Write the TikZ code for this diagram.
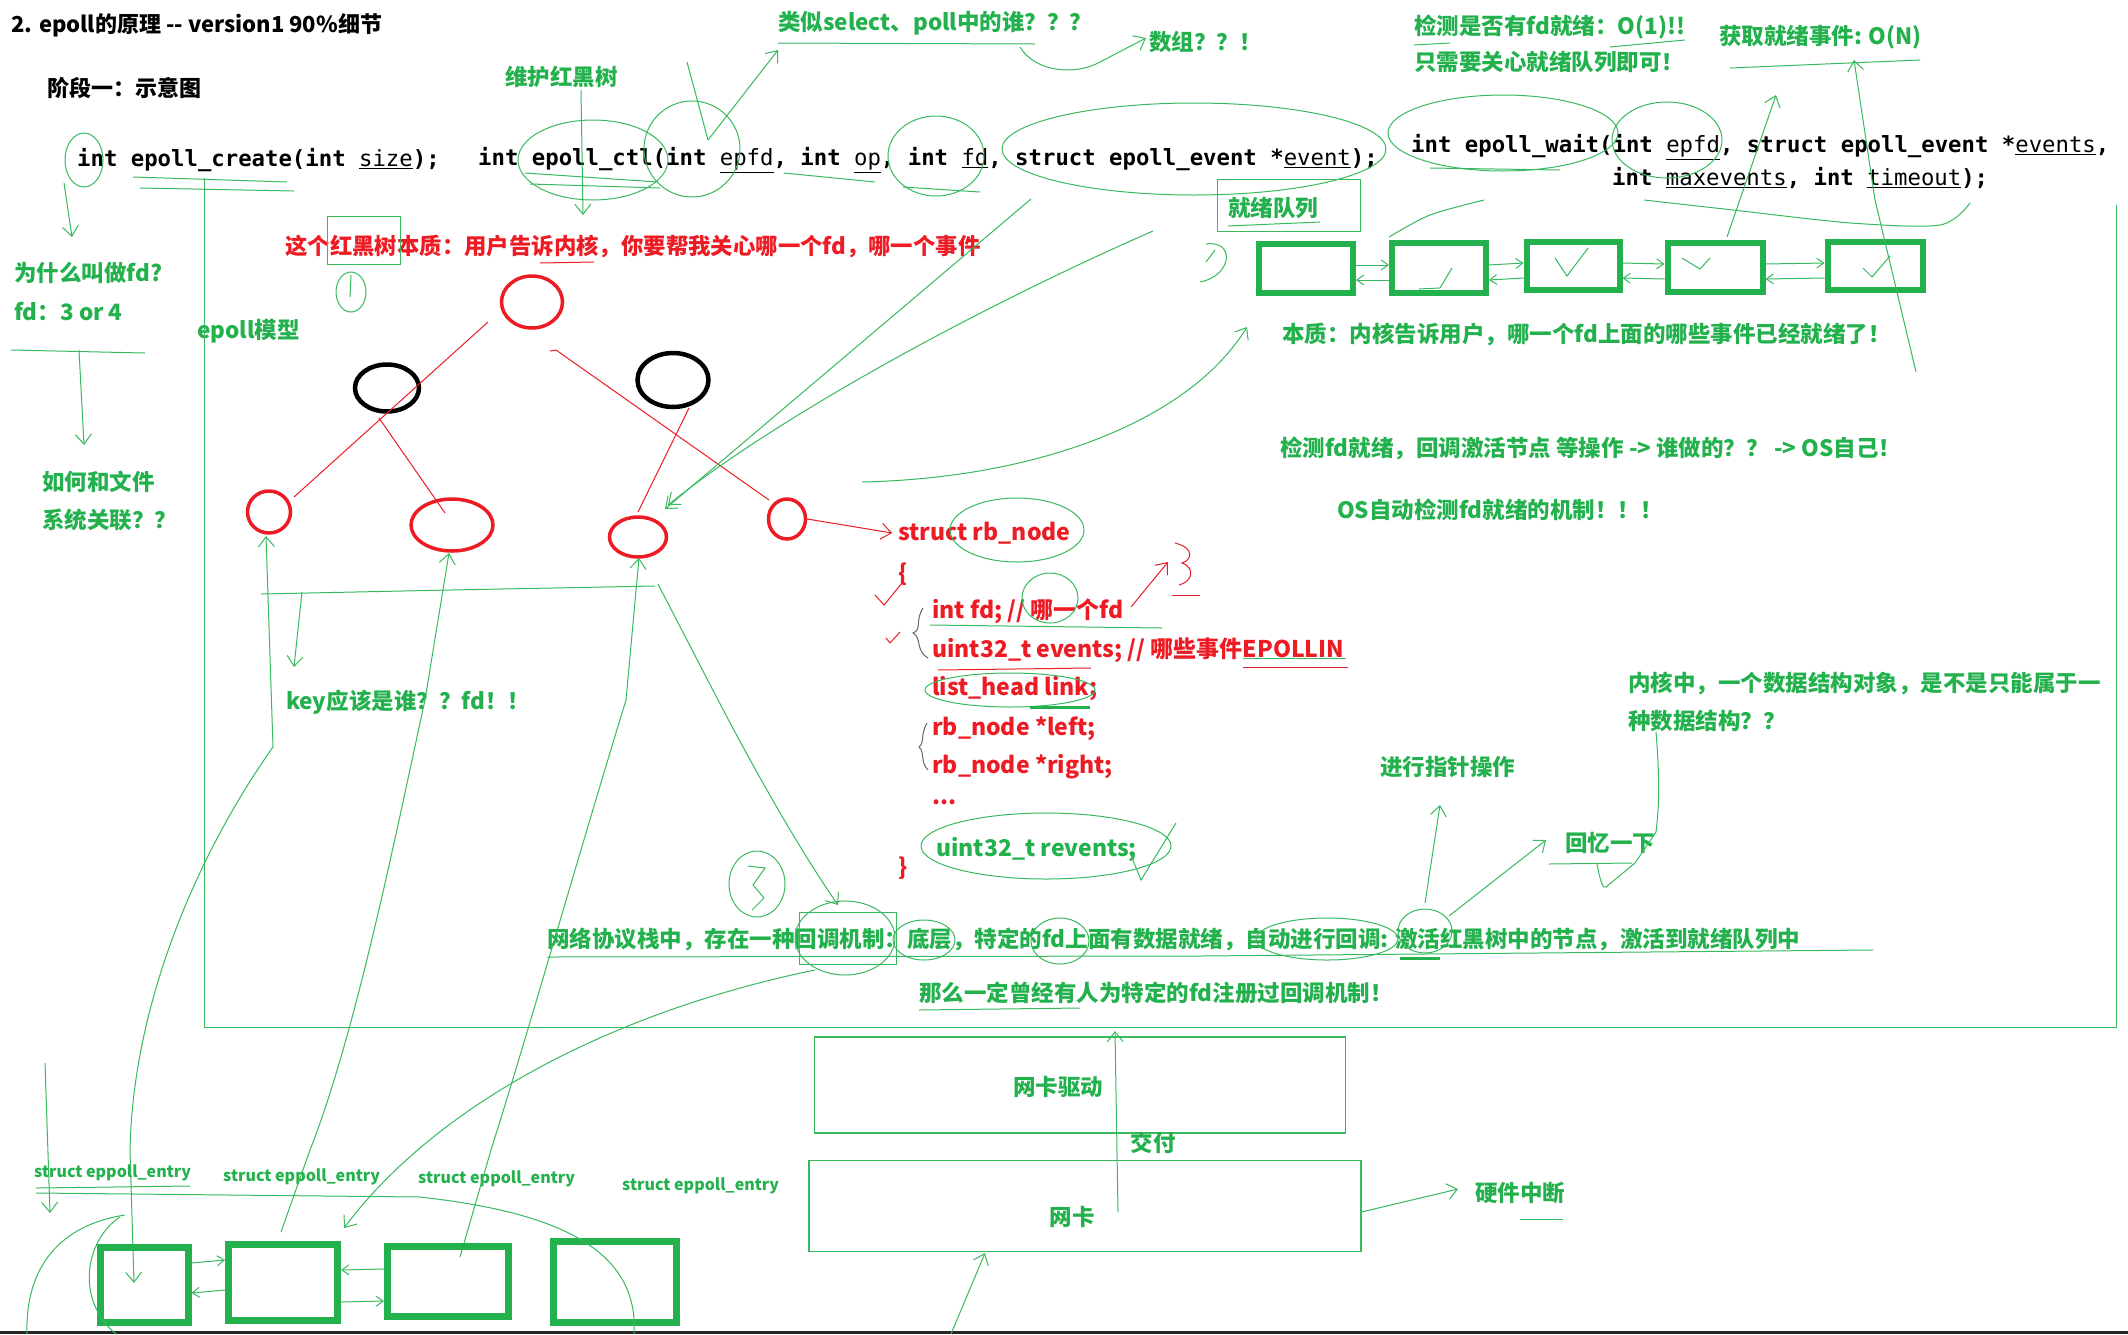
\documentclass[tikz,border=0pt]{standalone}
\usepackage{fontspec}
\setmainfont{Noto Sans CJK SC}
\newfontfamily\codefont{DejaVu Sans Mono}
\usetikzlibrary{arrows.meta,shapes.geometric,calc}
\definecolor{G}{RGB}{34,177,76}
\definecolor{R}{RGB}{237,28,36}
\newcommand\myfs[1]{\fontsize{#1}{#1}\selectfont}
\newcommand\uarg[1]{\underline{\mdseries #1}}
\begin{document}
\begin{tikzpicture}[x=1pt,y=-1pt,
  gt/.style={text=G, font=\bfseries\myfs{22.5}, inner sep=0pt, anchor=west},
  bt/.style={text=black, font=\bfseries\myfs{22}, inner sep=0pt, anchor=west},
  rt/.style={text=R, font=\bfseries\myfs{23}, inner sep=0pt, anchor=west},
  ct/.style={text=black, font=\codefont\bfseries\myfs{22.3}, inner sep=0pt, anchor=west},
  gs/.style={text=G, font=\bfseries\myfs{16}, inner sep=0pt, anchor=west},
  gl/.style={draw=G!90, line width=1pt},
  ga/.style={gl, -{Straight Barb[length=10pt,width=16pt]}},
  gab/.style={gl, {Straight Barb[length=10pt,width=16pt]}-{Straight Barb[length=10pt,width=16pt]}},
  gas/.style={gl, -{Straight Barb[length=7pt,width=10pt]}},
  rl/.style={draw=R, line width=1pt},
  ra/.style={rl, -{Straight Barb[length=10pt,width=16pt]}},
  rc/.style={ellipse, draw=R, line width=3.5pt, inner sep=0pt},
  kc/.style={ellipse, draw=black, line width=4.5pt, inner sep=0pt},
  qbox/.style={draw=G, line width=6pt, inner sep=0pt},
  pbox/.style={draw=G!90, line width=1.2pt, inner sep=0pt},
]
\fill[white] (0,0) rectangle (2128,1334);
\useasboundingbox (0,0) rectangle (2128,1334);
\fill[black!85] (0,1331) rectangle (2128,1334);

% ---------------- texts ----------------
\node[bt] (title) at (11,25) {2. epoll的原理 -{}- version1 90\%细节};
\node[bt] (stage) at (47,88) {阶段一：示意图};
\node[gt] (maint) at (505,77) {维护红黑树};
\node[gt] (similar) at (778,23) {类似select、poll中的谁？？？};
\node[gt] (arr) at (1149,42) {数组？？！};
\node[gt] (o1) at (1414,27) {检测是否有fd就绪：O(1)!!};
\node[gt] (only) at (1414,62) {只需要关心就绪队列即可！};
\node[gt] (on) at (1719,37) {获取就绪事件: O(N)};

\node[ct] (create) at (77,160) {int epoll\_create(int \uarg{size});};
\node[ct] (ctl) at (478,160) {int epoll\_ctl(int \uarg{epfd}, int \uarg{op}, int \uarg{fd}, struct epoll\_event *\uarg{event});};
\node[ct] (wait1) at (1411,147) {int epoll\_wait(int \uarg{epfd}, struct epoll\_event *\uarg{events},};
\node[ct] (wait2) at (1612,178) {int \uarg{maxevents}, int \uarg{timeout});};

\node[gt] (rql) at (1228,208) {就绪队列};
\node[rt, font=\bfseries\myfs{22.4}] (rbtxt) at (285,247) {这个红黑树本质：用户告诉内核，你要帮我关心哪一个fd，哪一个事件};
\node[gt] (why) at (14,273) {为什么叫做fd?};
\node[gt] (fd34) at (14,312) {fd：3 or 4};
\node[gt] (fs1) at (42,482) {如何和文件};
\node[gt] (fs2) at (42,520) {系统关联？？};
\node[gt] (model) at (197,331) {epoll模型};
\node[gt] (key) at (286,702) {key应该是谁？？fd！！};
\node[gt] (essence) at (1282,334) {本质：内核告诉用户，哪一个fd上面的哪些事件已经就绪了！};
\node[gt] (who) at (1280,448) {检测fd就绪，回调激活节点 等操作 -> 谁做的？？ -> OS自己！};
\node[gt] (osauto) at (1337,510) {OS自动检测fd就绪的机制！！！};

\node[rt] (rbnode) at (898,533) {struct rb\_node};
\node[rt] (lb) at (898,574) {\{};
\node[rt] (f1) at (932,611) {int fd; // 哪一个fd};
\node[rt] (f2) at (932,650) {uint32\_t events; // 哪些事件EPOLLIN};
\node[rt] (f3) at (932,689) {list\_head link;};
\node[rt] (f4) at (932,729) {rb\_node *left;};
\node[rt] (f5) at (932,767) {rb\_node *right;};
\node[rt] (f6) at (932,802) {...};
\node[gt, font=\bfseries\myfs{23}] (f7) at (936,850) {uint32\_t revents;};
\node[rt] (rb2) at (898,868) {\}};

\node[gt] (kern1) at (1628,683) {内核中，一个数据结构对象，是不是只能属于一};
\node[gt] (kern2) at (1628,721) {种数据结构？？};
\node[gt] (ptr) at (1380,767) {进行指针操作};
\node[gt] (recall) at (1565,843) {回忆一下};
\node[gt] (cb) at (547,939) {网络协议栈中，存在一种回调机制：底层，特定的fd上面有数据就绪，自动进行回调: 激活红黑树中的节点，激活到就绪队列中};
\node[gt] (must) at (919,993) {那么一定曾经有人为特定的fd注册过回调机制！};

\node[pbox, minimum width=531pt, minimum height=96pt] (drv) at (1080,1085) {};
\node[gt, anchor=center] (drvt) at (1058,1087) {网卡驱动};
\node[pbox, minimum width=552pt, minimum height=91pt] (nic) at (1085,1206) {};
\node[gt, anchor=center] (nict) at (1072,1217) {网卡};
\node[gt, anchor=center] (jf) at (1153,1143) {交付};
\node[gt] (hw) at (1475,1193) {硬件中断};

\node[gs] (e1) at (34,1173) {struct eppoll\_entry};
\node[gs] (e2) at (223,1177) {struct eppoll\_entry};
\node[gs] (e3) at (418,1179) {struct eppoll\_entry};
\node[gs] (e4) at (622,1186) {struct eppoll\_entry};

% ---------------- red-black tree ----------------
\node[rc, minimum width=61pt, minimum height=52pt] (root) at (532,302) {};
\node[kc, minimum width=64pt, minimum height=47pt] (bl) at (387,388) {};
\node[kc, minimum width=71pt, minimum height=54pt] (br) at (673,380) {};
\node[rc, minimum width=43pt, minimum height=42pt] (l1) at (269,512) {};
\node[rc, minimum width=82pt, minimum height=52pt] (l2) at (452,525) {};
\node[rc, minimum width=57pt, minimum height=40pt] (l3) at (638,537) {};
\node[rc, minimum width=37pt, minimum height=40pt] (l4) at (787,519) {};

\draw[rl] ([shift={(-44,20)}]root.center) -- ([shift={(25,-15)}]l1.center);
\draw[rl] ([shift={(-8,30)}]bl.center) -- ([shift={(-7,-12)}]l2.center);
\draw[rl] ([shift={(18,49)}]root.center) -- (556,350) -- ([shift={(-18,-19)}]l4.center);
\draw[rl] ([shift={(16,28)}]br.center) -- ([shift={(0,-25)}]l3.center);
\draw[ra] (l4.east) -- ([xshift=-6pt]rbnode.west);

% ---------------- ready queue ----------------
\draw[gl] (1217,179) rectangle (1360,231);
\draw[gl] (1228,226) -- (1320,222);
\node[qbox, minimum width=94pt, minimum height=49pt] (q1) at (1306,268) {};
\node[qbox, minimum width=94pt, minimum height=50pt] (q2) at (1439,268) {};
\node[qbox, minimum width=93pt, minimum height=48pt] (q3) at (1573,266) {};
\node[qbox, minimum width=95pt, minimum height=49pt] (q4) at (1715,267) {};
\node[qbox, minimum width=95pt, minimum height=48pt] (q5) at (1875,266) {};
\foreach \a/\b in {q1/q2,q2/q3,q3/q4,q4/q5}{
  \draw[gas] ([yshift=3pt]\a.east) -- ([yshift=3pt]\b.west);
  \draw[gas] ([yshift=-12pt]\b.west) -- ([yshift=-12pt]\a.east);
}
\draw[gl] (1419,289) -- (1440,288) -- (1452,268);
\draw[gl] (1555,258) -- (1567,276) -- (1588,248);
\draw[gl] (1682,258) -- (1700,269) -- (1710,258);
\draw[gl] (1863,268) -- (1872,277) -- (1890,256);
\draw[gl] (1206,244) .. controls (1236,240) and (1232,276) .. (1200,282);
\draw[gl] (1215,250) -- (1206,262);

% ---------------- top annotations ----------------
\draw[ga] (581,90) -- (583,215);
\draw[gl] (687,62) -- (708,140);
\draw[ga] (708,140) -- (778,50);
\draw[gl] (778,43) -- (1035,44);
\draw[ga] (1020,47) .. controls (1035,72) and (1075,76) .. (1100,62) -- (1146,38);
\draw[gl] (1414,45) -- (1450,43);
\draw[gl] (1610,47) -- (1685,40);
\draw[gl] (1730,68) -- (1920,60);
\draw[ga] (1916,372) -- (1875,200) -- (1854,60);
\draw[ga] (1727,237) -- (1776,95);
\draw[gl] plot[smooth] coordinates {(1644,200) (1733,210) (1851,223) (1940,225) (1970,203)};
\draw[gl] plot[smooth] coordinates {(1389,237) (1430,215) (1484,200)};
\draw[ga] (862,482) .. controls (1040,478) and (1190,420) .. (1247,327);
\draw[ga] (1031,199) -- (665,509);
\draw[ga] (1153,231) .. controls (950,320) and (760,430) .. (668,505);

% code ellipses and underlines
\draw[gl] (84,160) ellipse [x radius=19pt, y radius=27pt];
\draw[gl] (593,160) ellipse [x radius=75pt, y radius=40pt];
\draw[gl] (692,149) ellipse [x radius=48pt, y radius=48pt];
\draw[gl] (936,156) ellipse [x radius=48pt, y radius=40pt];
\draw[gl] (1194,149) ellipse [x radius=192pt, y radius=46pt];
\draw[gl] (1503,133) ellipse [x radius=115pt, y radius=38pt];
\draw[gl] (1667,140) ellipse [x radius=55pt, y radius=38pt];
\draw[gl] (133,177) -- (287,182);
\draw[gl] (140,188) -- (294,191);
\draw[gl] (525,173) -- (658,182);
\draw[gl] (530,184) -- (660,188);
\draw[gl] (784,173) -- (875,182);
\draw[gl] (903,187) -- (980,192);
\draw[gl] (1430,168) -- (1560,170);

% ---------------- left annotations ----------------
\draw[ga] (64,183) -- (72,237);
\draw[gl] (11,350) -- (145,353);
\draw[ga] (79,350) -- (84,445);

% frame
\draw[gl] (204,178) -- (204,1027) -- (2116,1027) -- (2116,205);

% tree area annotations
\draw[gl] (327,216) rectangle (400,264);
\draw[rl] (540,263) -- (594,262);
\draw[gl] (351,292) ellipse [x radius=15pt, y radius=20pt];
\draw[gl] (351,275) -- (350,297);
\draw[gl] (261,594) -- (450,590) -- (655,586);
\draw[ga] (302,592) -- (294,667);

% lines between eppoll entries and leaves
\draw[gab] (134,1283) -- (130,1150) .. controls (133,1000) and (200,850) .. (273,747) -- (266,536);
\draw[ga] (281,1232) -- (310,1150) .. controls (356,1033) and (396,833) .. (425,700) -- (449,553);
\draw[ga] (460,1257) -- (491,1150) .. controls (528,1033) and (580,850) .. (626,700) -- (639,558);
\draw[ga] (658,584) -- (718,700) .. controls (760,780) and (800,850) .. (838,905);
\draw[ga] (815,970) .. controls (620,1010) and (440,1100) .. (344,1228);

% ---------------- struct decorations ----------------
\draw[gl] (1017,530) ellipse [x radius=67pt, y radius=32pt];
\draw[gl] (1010,690) ellipse [x radius=85pt, y radius=17pt];
\draw[draw=G, line width=3pt] (1030,707) -- (1090,707);
\draw[gl] (1046,846) ellipse [x radius=125pt, y radius=33pt];
\draw[gl] (1130,853) -- (1141,880) -- (1176,823);
\draw[gl] (1050,598) ellipse [x radius=28pt, y radius=25pt];
\draw[gl] (930,625) -- (1162,628);
\draw[rl] (938,670) -- (1091,668);
\draw[gl] (1243,658) -- (1346,658);
\draw[rl] (1243,667) -- (1348,667);
\draw[ra] (1131,607) -- (1168,562);
\draw[rl] (1175,543) .. controls (1195,548) and (1192,560) .. (1182,563) .. controls (1196,568) and (1192,582) .. (1179,585);
\draw[rl] (1172,595) -- (1200,595);
\draw[rl] (875,595) -- (884,605) -- (902,583);
\draw[rl] (886,638) -- (890,643) -- (900,632);
\draw[draw=black!60, line width=1pt] (923,608) .. controls (915,620) and (922,630) .. (913,633) .. controls (922,638) and (915,650) .. (928,658);
\draw[draw=black!60, line width=1pt] (927,723) .. controls (920,735) and (925,742) .. (919,747) .. controls (925,752) and (920,762) .. (928,770);

% ---------------- callback line ----------------
\draw[gl] (547,957) -- (1200,956) -- (1873,950);
\draw[gl] (799,912) rectangle (896,964);
\draw[gl] (845,938) ellipse [x radius=50pt, y radius=37pt];
\draw[gl] (924,940) ellipse [x radius=31pt, y radius=20pt];
\draw[gl] (1060,941) ellipse [x radius=29pt, y radius=23pt];
\draw[gl] (1327,939) ellipse [x radius=71pt, y radius=21pt];
\draw[gl] (1425,931) ellipse [x radius=27pt, y radius=22pt];
\draw[draw=G, line width=3pt] (1400,958) -- (1440,958);
\draw[gl] (757,884) ellipse [x radius=28pt, y radius=33pt];
\draw[gl] (748,866) -- (765,868) -- (753,885) -- (764,898) -- (752,910);
\draw[ga] (1425,903) -- (1440,805);
\draw[ga] (1449,916) -- (1546,840);
\draw[gl] (1549,864) -- (1632,863);
\draw[gl] (1597,864) .. controls (1600,880) and (1603,890) .. (1606,887) -- (1635,863) -- (1656,832) .. controls (1660,800) and (1659,770) .. (1656,732);
\draw[gl] (919,1010) -- (1080,1008);

% ---------------- bottom ----------------
\node[qbox, line width=7pt, minimum width=88pt, minimum height=75pt] (b1) at (144,1285) {};
\node[qbox, line width=7pt, minimum width=109pt, minimum height=76pt] (b2) at (283,1282) {};
\node[qbox, line width=7pt, minimum width=121pt, minimum height=70pt] (b3) at (448,1281) {};
\node[qbox, line width=7pt, minimum width=123pt, minimum height=81pt] (b4) at (615,1282) {};
\draw[gas] ([yshift=22pt]b1.east) -- ([yshift=22pt]b2.west);
\draw[gas] ([yshift=-8pt]b2.west) -- ([yshift=-8pt]b1.east);
\draw[gas] ([yshift=12pt]b3.west) -- ([yshift=12pt]b2.east);
\draw[gas] ([yshift=-20pt]b2.east) -- ([yshift=-20pt]b3.west);
\draw[gl] (36,1188) -- (190,1186);
\draw[gl] (36,1193) -- (420,1197) .. controls (536,1210) and (640,1240) .. (634,1334);
\draw[gl] (27,1334) .. controls (25,1267) and (60,1225) .. (125,1215);
\draw[gl] (120,1217) .. controls (85,1240) and (75,1300) .. (116,1334);
\draw[ga] (45,1063) -- (50,1213);
\draw[ga] (1118,1212) -- (1115,1031);
\draw[ga] (nic.east |- 0,1212) -- (1458,1189);
\draw[gl] (1520,1219) -- (1563,1219);
\draw[ga] (951,1334) -- (985,1253);
\end{tikzpicture}
\end{document}
